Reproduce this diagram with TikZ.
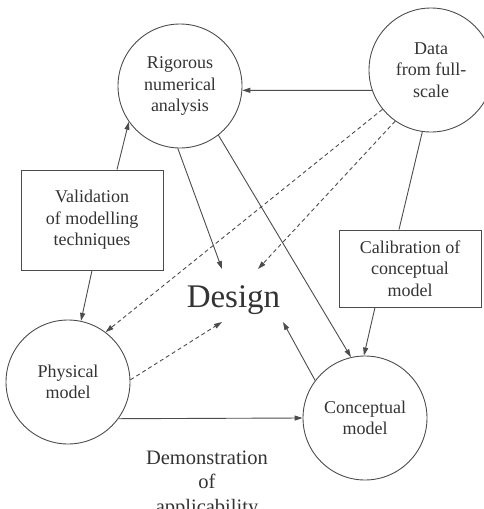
\documentclass[tikz,border=0pt]{standalone}
\usepackage{fontspec}
\setmainfont{Liberation Serif}
\usetikzlibrary{arrows.meta,calc}
\begin{document}
\begin{tikzpicture}[x=1pt,y=-1pt,
  lc/.style={draw=black!70, line width=0.9pt},
  arr/.style={lc, -{Triangle[length=8pt,width=5pt]}},
  darr/.style={arr, dash pattern=on 4pt off 3pt},
  bubble/.style={circle, draw=black!70, line width=0.9pt, minimum size=124pt, inner sep=0pt, align=center, text=black!80, font=\fontsize{18}{21.5}\selectfont},
  boxnode/.style={rectangle, draw=black!70, line width=0.9pt, inner sep=0pt, align=center, text=black!80, font=\fontsize{18}{21.5}\selectfont},
]
\useasboundingbox (0,0) rectangle (484,509);
\node[bubble] (rig) at (180,86) {Rigorous\\numerical\\analysis};
\node[bubble] (data) at (431,70) {Data\\from full-\\scale};
\node[bubble] (phys) at (68,382) {Physical\\model};
\node[bubble] (con) at (365,418) {Conceptual\\model};
\node[boxnode, minimum width=142pt, minimum height=100pt] (valid) at (92,220) {Validation\\of modelling\\techniques};
\node[boxnode, minimum width=142pt, minimum height=77pt] (calib) at (410,268.5) {Calibration of\\conceptual\\model};
\node[text=black!80, font=\fontsize{33}{36}\selectfont, inner sep=0pt, anchor=base] (design) at (233.5,307) {Design};
\node[text=black!80, font=\fontsize{20.5}{24.5}\selectfont, align=center, inner sep=0pt] (demo) at (207,484) {Demonstration\\of\\applicability};
\coordinate (dNW) at (222,269);
\coordinate (dNE) at (258,269);
\coordinate (dSW) at (222,322);
\coordinate (dSE) at (283,322);
\draw[arr] (data.199) -- (rig.356);
\draw[arr] ($(valid.north)+(25,0)$) -- (rig.215);
\draw[arr] (valid.south) -- (phys.78);
\draw[arr] (rig.268) -- (dNW);
\draw[arr] (rig.308) -- (con.103);
\draw[arr] ($(calib.south)+(-35,0)$) -- (con.91);
\draw[lc] (data.262) -- ($(calib.north)+(-11,0)$);
\draw[darr] (data.219) -- (phys.53.5);
\draw[darr] (data.235) -- (dNE);
\draw[darr] (phys.2) -- (dSW);
\draw[arr] (con.143) -- (dSE);
\draw[arr] (phys.324.5) -- (con.180);
\end{tikzpicture}
\end{document}
